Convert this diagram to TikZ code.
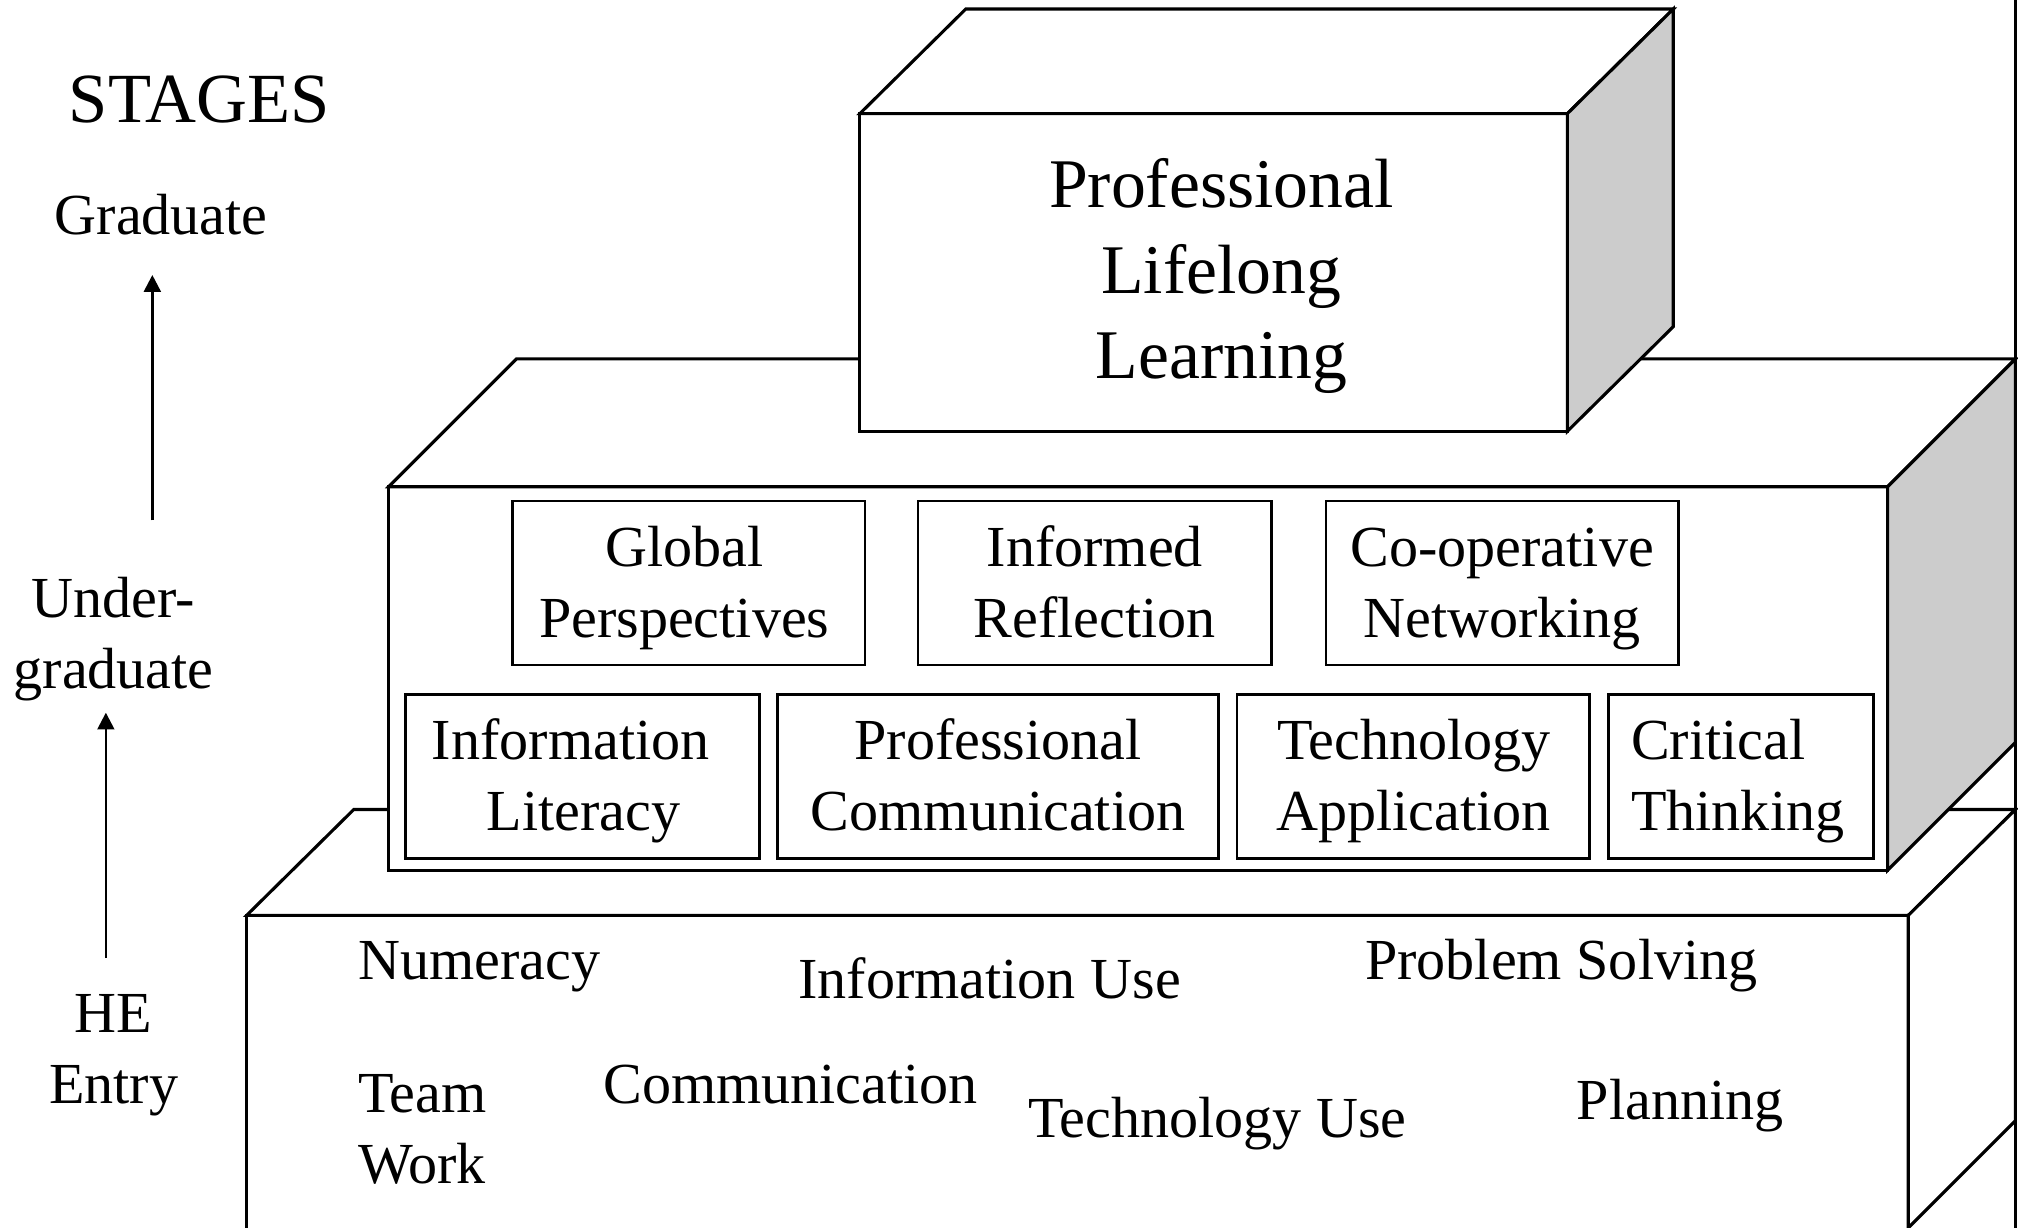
\documentclass[tikz,border=0pt]{standalone}
\usepackage{fontspec}
\setmainfont{Liberation Serif}
\usetikzlibrary{arrows.meta}
\definecolor{shade}{HTML}{CCCCCC}
\begin{document}
\begin{tikzpicture}[x=0.5pt,y=-0.5pt,
  edge/.style={draw=black,line width=1.2pt,line join=miter},
  front/.style={edge,fill=white,inner sep=0pt,outer sep=0pt},
  ibox/.style={draw=black,line width=1.05pt,fill=white,inner sep=0pt,minimum height=63.5pt},
  big/.style={font=\fontsize{27}{33}\selectfont},
  med/.style={font=\fontsize{22.5}{27.5}\selectfont},
  ctxt/.style={inner sep=0pt,align=center,anchor=base},
  ltxt/.style={inner sep=0pt,align=left,anchor=base west},
  arr/.style={line width=1pt,-{Triangle[length=6.5pt,width=6.5pt]}}]
\useasboundingbox (0,0) rectangle (1563,951);

% frame line at the right
\draw[line width=0.9pt] (1561,0) -- (1561,951);

% ---------- bottom block (HE entry) ----------
\path[fill=white] (191,709) rectangle (1478,951);
\draw[edge] (191,951) -- (191,709) -- (1478,709) -- (1478,951);
\draw[edge,fill=white] (191,709) -- (274,627) -- (1561,627) -- (1478,709) -- cycle;
\draw[edge,fill=white] (1478,709) -- (1561,627) -- (1561,868) -- (1478,951) -- cycle;

% ---------- middle block (undergraduate) ----------
\node[front,minimum width=580.5pt,minimum height=148.5pt] (mid) at (881.5,525.5) {};
\draw[edge,fill=white] (mid.north west) -- ++(99,-99) -- ++(1161,0) -- (mid.north east) -- cycle;
\draw[edge,fill=shade] (mid.north east) -- ++(99,-99) -- ++(0,297) -- (mid.south east) -- cycle;

% ---------- top block (graduate) ----------
\node[front,minimum width=274pt,minimum height=123pt] (top) at (940,211) {};
\draw[edge,fill=white] (top.north west) -- ++(82,-81) -- ++(548,0) -- (top.north east) -- cycle;
\draw[edge,fill=shade] (top.north east) -- ++(82,-81) -- ++(0,246) -- (top.south east) -- cycle;
\node[ctxt,big] (pll) at (946,293) {Professional\\Lifelong\\Learning};

% ---------- inner boxes, row 1 ----------
\node[ibox,minimum width=136.5pt] (gp) at (533.5,451.5) {};
\node[ibox,minimum width=137pt] (ir) at (848,451.5) {};
\node[ibox,minimum width=136.5pt] (cn) at (1163.5,451.5) {};
\node[ctxt,med] (gpt) at (530,494) {Global\\Perspectives};
\node[ctxt,med] (irt) at (848,494) {Informed\\Reflection};
\node[ctxt,med] (cnt) at (1163.5,494) {Co-operative\\Networking};

% ---------- inner boxes, row 2 ----------
\node[ibox,minimum width=137pt] (il) at (451,601.5) {};
\node[ibox,minimum width=171pt] (pc) at (773,601.5) {};
\node[ibox,minimum width=136.5pt] (ta) at (1094.5,601.5) {};
\node[ibox,minimum width=102.5pt] (ct) at (1348.5,601.5) {};
\node[ctxt,med] (ilt) at (442,643) {Information\\\hspace*{10pt}Literacy};
\node[ctxt,med] (pct) at (773,643) {Professional\\Communication};
\node[ctxt,med] (tat) at (1095,643) {Technology\\Application};
\node[ltxt,med] (ctt) at (1263,643) {Critical\\Thinking};

% ---------- bottom block texts ----------
\node[ltxt,med] (num) at (277,759) {Numeracy};
\node[ltxt,med] (iu) at (618,773) {Information Use};
\node[ltxt,med] (ps) at (1057,759) {Problem Solving};
\node[ltxt,med] (tw) at (277,917) {Team\\Work};
\node[ltxt,med] (com) at (467,855) {Communication};
\node[ltxt,med] (tu) at (796,881) {Technology Use};
\node[ltxt,med] (pl) at (1221,867) {Planning};

% ---------- stages ----------
\node[ltxt,font=\fontsize{27.3}{32}\selectfont] (stages) at (53,95) {STAGES};
\node[ltxt,med] (grad) at (42,181.5) {Graduate};
\node[ctxt,med] (ug) at (88,533) {Under-\\graduate};
\node[ctxt,med] (he) at (88,855) {HE\\Entry};
\coordinate (a1b) at (118,403);
\coordinate (a1t) at (118,213);
\coordinate (a2b) at (82,742);
\coordinate (a2t) at (82,552);
\draw[arr] (a1b) -- (a1t);
\draw[arr] (a2b) -- (a2t);
\end{tikzpicture}
\end{document}
